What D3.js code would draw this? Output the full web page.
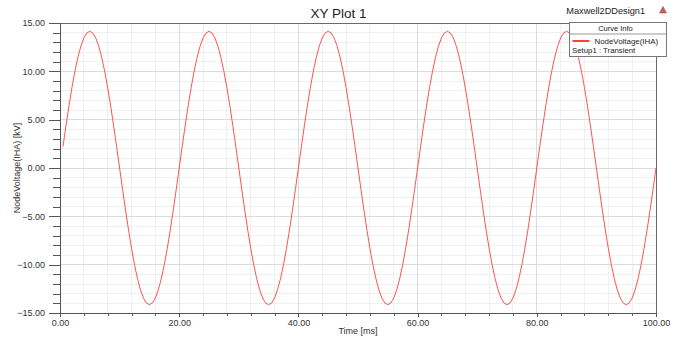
<!DOCTYPE html>
<html>
<head>
<meta charset="utf-8">
<script src="https://cdn.jsdelivr.net/npm/d3@7"></script>
<style>
  html, body { margin: 0; padding: 0; background: #fff; }
  svg { display: block; font-family: "Liberation Sans", Arial, sans-serif; }
  .axis text { fill: #333; font-size: 9px; }
</style>
</head>
<body>
<div id="chart"></div>
<script>
// NodeVoltage(IHA) samples [kV], one every 0.5 ms starting at 0.5 ms
const sampleStart = 0.5;
const sampleStep = 0.5;
const nodeVoltage = [
  2.21, 4.37, 6.42, 8.31, 10.00, 11.44, 12.60, 13.45, 13.97, 14.14, 13.97, 13.45, 12.60, 11.44, 10.00, 8.31, 6.42, 4.37, 2.21, 0.00,
  -2.21, -4.37, -6.42, -8.31, -10.00, -11.44, -12.60, -13.45, -13.97, -14.14, -13.97, -13.45, -12.60, -11.44, -10.00, -8.31, -6.42, -4.37, -2.21, 0.00,
  2.21, 4.37, 6.42, 8.31, 10.00, 11.44, 12.60, 13.45, 13.97, 14.14, 13.97, 13.45, 12.60, 11.44, 10.00, 8.31, 6.42, 4.37, 2.21, 0.00,
  -2.21, -4.37, -6.42, -8.31, -10.00, -11.44, -12.60, -13.45, -13.97, -14.14, -13.97, -13.45, -12.60, -11.44, -10.00, -8.31, -6.42, -4.37, -2.21, 0.00,
  2.21, 4.37, 6.42, 8.31, 10.00, 11.44, 12.60, 13.45, 13.97, 14.14, 13.97, 13.45, 12.60, 11.44, 10.00, 8.31, 6.42, 4.37, 2.21, 0.00,
  -2.21, -4.37, -6.42, -8.31, -10.00, -11.44, -12.60, -13.45, -13.97, -14.14, -13.97, -13.45, -12.60, -11.44, -10.00, -8.31, -6.42, -4.37, -2.21, 0.00,
  2.21, 4.37, 6.42, 8.31, 10.00, 11.44, 12.60, 13.45, 13.97, 14.14, 13.97, 13.45, 12.60, 11.44, 10.00, 8.31, 6.42, 4.37, 2.21, 0.00,
  -2.21, -4.37, -6.42, -8.31, -10.00, -11.44, -12.60, -13.45, -13.97, -14.14, -13.97, -13.45, -12.60, -11.44, -10.00, -8.31, -6.42, -4.37, -2.21, 0.00,
  2.21, 4.37, 6.42, 8.31, 10.00, 11.44, 12.60, 13.45, 13.97, 14.14, 13.97, 13.45, 12.60, 11.44, 10.00, 8.31, 6.42, 4.37, 2.21, 0.00,
  -2.21, -4.37, -6.42, -8.31, -10.00, -11.44, -12.60, -13.45, -13.97, -14.14, -13.97, -13.45, -12.60, -11.44, -10.00, -8.31, -6.42, -4.37, -2.21, 0.00
];

const xMajorTicks = [0, 20, 40, 60, 80, 100];
const xMinorTicks = [4, 8, 12, 16, 24, 28, 32, 36, 44, 48, 52, 56, 64, 68, 72, 76, 84, 88, 92, 96];
const yMajorTicks = [-15, -10, -5, 0, 5, 10, 15];
const yMinorTicks = [-14, -13, -12, -11, -9, -8, -7, -6, -4, -3, -2, -1, 1, 2, 3, 4, 6, 7, 8, 9, 11, 12, 13, 14];

const title = "XY Plot 1";
const designName = "Maxwell2DDesign1";
const xLabel = "Time [ms]";
const yLabel = "NodeVoltage(IHA) [kV]";
const seriesName = "NodeVoltage(IHA)";
const setupName = "Setup1 : Transient";

const width = 681;
const height = 341;
const margin = { top: 23, right: 25, bottom: 28, left: 60 };

const data = nodeVoltage.map((v, i) => ({ t: sampleStart + i * sampleStep, v }));

const x = d3.scaleLinear().domain([0, 100]).range([margin.left, width - margin.right]);
const y = d3.scaleLinear().domain([-15, 15]).range([height - margin.bottom, margin.top]);

const svg = d3.select("#chart").append("svg")
  .attr("width", width)
  .attr("height", height);

// grid
const gGrid = svg.append("g").attr("shape-rendering", "crispEdges");
gGrid.selectAll(".vminor").data(xMinorTicks).join("line")
  .attr("x1", d => x(d)).attr("x2", d => x(d))
  .attr("y1", margin.top).attr("y2", height - margin.bottom)
  .attr("stroke", "#f0f0f0");
gGrid.selectAll(".hminor").data(yMinorTicks).join("line")
  .attr("y1", d => y(d)).attr("y2", d => y(d))
  .attr("x1", margin.left).attr("x2", width - margin.right)
  .attr("stroke", "#f0f0f0");
gGrid.selectAll(".vmajor").data(xMajorTicks).join("line")
  .attr("x1", d => x(d)).attr("x2", d => x(d))
  .attr("y1", margin.top).attr("y2", height - margin.bottom)
  .attr("stroke", "#dcdcdc");
gGrid.selectAll(".hmajor").data(yMajorTicks).join("line")
  .attr("y1", d => y(d)).attr("y2", d => y(d))
  .attr("x1", margin.left).attr("x2", width - margin.right)
  .attr("stroke", "#dcdcdc");

// curve
svg.append("path")
  .datum(data)
  .attr("fill", "none")
  .attr("stroke", "#ff4040")
  .attr("stroke-width", 0.9)
  .attr("d", d3.line().x(d => x(d.t)).y(d => y(d.v)));

// frame
svg.append("rect")
  .attr("x", margin.left).attr("y", margin.top)
  .attr("width", x(100) - x(0)).attr("height", y(-15) - y(15))
  .attr("fill", "none").attr("stroke", "#6a6a6a")
  .attr("shape-rendering", "crispEdges");

// axes
svg.append("g").attr("class", "axis")
  .attr("transform", `translate(${margin.left},0)`)
  .call(d3.axisLeft(y).tickValues(yMajorTicks).tickFormat(d3.format(".2f")).tickSize(11).tickPadding(4));
svg.append("g").attr("class", "axis")
  .attr("transform", `translate(${margin.left},0)`)
  .call(d3.axisLeft(y).tickValues(yMinorTicks).tickFormat("").tickSize(7))
  .call(g => g.select(".domain").remove());
svg.append("g").attr("class", "axis")
  .attr("transform", `translate(0,${height - margin.bottom})`)
  .call(d3.axisBottom(x).tickValues(xMajorTicks).tickFormat(d3.format(".2f")).tickSize(4).tickPadding(3));
svg.append("g").attr("class", "axis")
  .attr("transform", `translate(0,${height - margin.bottom})`)
  .call(d3.axisBottom(x).tickValues(xMinorTicks).tickFormat("").tickSize(3))
  .call(g => g.select(".domain").remove());
svg.selectAll(".axis line, .axis path").attr("stroke", "#555").attr("shape-rendering", "crispEdges");
svg.selectAll(".axis .domain").attr("stroke-width", 1.6);

// labels
svg.append("text")
  .attr("x", width / 2 - 2).attr("y", 18)
  .attr("text-anchor", "middle")
  .attr("font-size", 13.5).attr("fill", "#222")
  .text(title);
svg.append("text")
  .attr("x", 645).attr("y", 14)
  .attr("text-anchor", "end")
  .attr("font-size", 9.2).attr("fill", "#222")
  .text(designName);
svg.append("path")
  .attr("d", "M659.5,13L663,6.5L666.5,13Z")
  .attr("fill", "#c9605c").attr("stroke", "#8a3a3a").attr("stroke-width", 0.5);
svg.append("text")
  .attr("x", (x(0) + x(100)) / 2).attr("y", 334)
  .attr("text-anchor", "middle")
  .attr("font-size", 9).attr("fill", "#333")
  .text(xLabel);
svg.append("text")
  .attr("transform", `translate(20,${(y(15) + y(-15)) / 2}) rotate(-90)`)
  .attr("text-anchor", "middle")
  .attr("font-size", 9).attr("fill", "#333")
  .text(yLabel);

// legend
const lg = svg.append("g").attr("transform", "translate(569.5,22.5)");
lg.append("rect")
  .attr("width", 97).attr("height", 34)
  .attr("fill", "#fff").attr("stroke", "#777");
lg.append("line")
  .attr("x1", 0).attr("x2", 97).attr("y1", 11.5).attr("y2", 11.5)
  .attr("stroke", "#999");
lg.append("text")
  .attr("x", 46).attr("y", 8.5)
  .attr("text-anchor", "middle")
  .attr("font-size", 7.5).attr("fill", "#222")
  .text("Curve Info");
lg.append("line")
  .attr("x1", 3).attr("x2", 20).attr("y1", 18.5).attr("y2", 18.5)
  .attr("stroke", "#ff0000").attr("stroke-width", 1.5);
lg.append("text")
  .attr("x", 25).attr("y", 21.5)
  .attr("font-size", 7.9).attr("fill", "#222")
  .text(seriesName);
lg.append("text")
  .attr("x", 2.5).attr("y", 30.5)
  .attr("font-size", 7.8).attr("fill", "#222")
  .text(setupName);
</script>
</body>
</html>
